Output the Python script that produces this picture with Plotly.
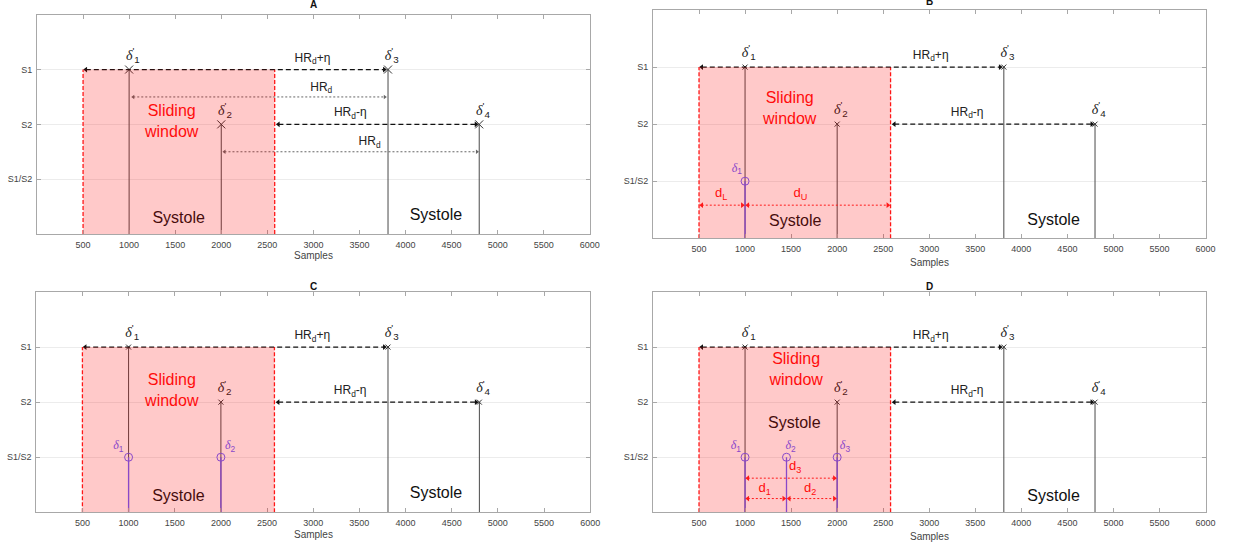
import plotly.graph_objects as go

# ---------------- data ----------------
x_ticks = list(range(500, 6001, 500))
y_levels = [1, 2, 3]
y_labels = ["S1/S2", "S2", "S1"]
panel_titles = ["A", "B", "C", "D"]

window_start = 500
window_end = 2580

peak_x = [1000, 2000, 3810, 4800]        # delta'_1 .. delta'_4
peak_level = [3, 2, 3, 2]
peak_names = ["1", "2", "3", "4"]

hr_plus_span = [530, 3770]               # HR_d + eta
hr_plus_level = 3
hr_minus_span = [2620, 4765]             # HR_d - eta
hr_minus_level = 2
hr_d_spans = [[1045, 3775], [2035, 4775]]  # panel A, HR_d
hr_d_levels = [2.5, 1.5]

det_b = [1000]
det_c = [1000, 2000]
det_d = [1000, 1450, 2000]
det_level = 1

dl_span = [530, 970]       # panel B
du_span = [1030, 2550]
dist_b_level = 0.58
d3_span = [1030, 1970]     # panel D
d1_span = [1030, 1420]
d2_span = [1480, 1970]
d3_level = 0.62
d12_level = 0.25

# ---------------- style ----------------
SANS = "Liberation Sans"
SERIF = "Liberation Serif"
BLUE = "#6a5cff"
STEM = "#4a4a4a"
AXC = "#a8a8a8"
TXT = "#444444"
BLACK_DASH = "5px,3px"
RED_DASH = "4px,2px"
DOT = "2px,2px"

domains = {
    1: ([0.0301, 0.4799], [0.5722, 0.9731]),
    2: ([0.5313, 0.9809], [0.5644, 0.9817]),
    3: ([0.0295, 0.4802], [0.0634, 0.4662]),
    4: ([0.5313, 0.9809], [0.0634, 0.4662]),
}

fig = go.Figure()


def refs(i):
    return ("x" if i == 1 else f"x{i}"), ("y" if i == 1 else f"y{i}")


def line(i, xs, ys, color, width=1, dash="solid", mode="lines", marker=None):
    xr, yr = refs(i)
    fig.add_trace(go.Scatter(x=xs, y=ys, mode=mode, xaxis=xr, yaxis=yr,
                             line=dict(color=color, width=width, dash=dash),
                             marker=marker or {}, hoverinfo="skip", showlegend=False))


def arrow(i, span, y, color, width=1.3, dash=BLACK_DASH, size=5):
    line(i, span, [y, y], color, width, dash, mode="lines+markers",
         marker=dict(symbol=["triangle-left", "triangle-right"], size=size, color=color,
                     line=dict(width=0)))


def text(i, x, y, s, size, color, family=SANS):
    xr, yr = refs(i)
    fig.add_trace(go.Scatter(x=[x], y=[y], mode="text", text=[s], xaxis=xr, yaxis=yr,
                             textposition="middle center",
                             textfont=dict(size=size, color=color, family=family),
                             hoverinfo="skip", showlegend=False))


def dlabel(n, prime=True):
    d = f'<span style="font-family:{SERIF}"><i>δ</i></span>'
    if prime:
        return d + "<sup>'</sup><sub>" + n + "</sub>"
    return d + "<sub>" + n + "</sub>"


def base_panel(i, msize, plus_lab, minus_lab, sw_pos, dprime_dx):
    # window edges
    for xw in (window_start, window_end):
        line(i, [xw, xw], [0, 3], "#ff1a1a", 1.3, RED_DASH)
    # stems of delta'
    for xp, lv, nm in zip(peak_x, peak_level, peak_names):
        line(i, [xp, xp], [0, lv], STEM, 1)
        line(i, [xp], [lv], STEM, mode="markers",
             marker=dict(symbol="x-thin", size=msize, line=dict(width=1, color="#333333")))
        text(i, xp + dprime_dx, lv + 0.24, dlabel(nm), 14, "#222222")
    arrow(i, hr_plus_span, hr_plus_level, "#111111")
    arrow(i, hr_minus_span, hr_minus_level, "#111111")
    text(i, plus_lab[0], plus_lab[1], "HR<sub>d</sub>+η", 12, "#222222")
    text(i, minus_lab[0], minus_lab[1], "HR<sub>d</sub>-η", 12, "#222222")
    text(i, sw_pos[0], sw_pos[1], "Sliding<br>window", 16, "#ff1010")


def detections(i, xs):
    for xd in xs:
        line(i, [xd, xd], [0, det_level], BLUE, 1.3)
        line(i, [xd], [det_level], BLUE, mode="markers",
             marker=dict(symbol="circle-open", size=8, line=dict(width=1, color=BLUE)))


# ---- Panel A ----
base_panel(1, 8, (2990, 3.2), (3400, 2.2), (1462, 2.04), 40)
for sp, lv in zip(hr_d_spans, hr_d_levels):
    arrow(1, sp, lv, "#666666", 1.0, DOT, 4)
text(1, 3085, 2.67, "HR<sub>d</sub>", 12, "#222222")
text(1, 3610, 1.67, "HR<sub>d</sub>", 12, "#222222")
text(1, 1538, 0.27, "Systole", 16, "#111111")
text(1, 4330, 0.32, "Systole", 16, "#111111")

# ---- Panel B ----
base_panel(2, 5, (3016, 3.2), (3412, 2.2), (1485, 2.25), 40)
detections(2, det_b)
text(2, 910, 1.22, dlabel("1", False), 12, BLUE)
arrow(2, dl_span, dist_b_level, "#ff2020", 1.0, DOT, 5)
arrow(2, du_span, dist_b_level, "#ff2020", 1.0, DOT, 5)
text(2, 740, 0.78, "d<sub>L</sub>", 13, "#ff1010")
text(2, 1600, 0.78, "d<sub>U</sub>", 13, "#ff1010")
text(2, 1545, 0.28, "Systole", 16, "#111111")
text(2, 4350, 0.3, "Systole", 16, "#111111")

# ---- Panel C ----
base_panel(3, 5, (2990, 3.2), (3400, 2.2), (1468, 2.19), 40)
detections(3, det_c)
text(3, 890, 1.2, dlabel("1", False), 12, BLUE)
text(3, 2100, 1.2, dlabel("2", False), 12, BLUE)
text(3, 1540, 0.28, "Systole", 16, "#111111")
text(3, 4330, 0.33, "Systole", 16, "#111111")

# ---- Panel D ----
base_panel(4, 5, (3016, 3.2), (3412, 2.2), (1555, 2.57), 40)
detections(4, det_d)
for xd, nm in zip(det_d, ["1", "2", "3"]):
    text(4, xd + (-100 if nm == "1" else 45 if nm == "2" else 85), 1.2, dlabel(nm, False), 12, BLUE)
arrow(4, d3_span, d3_level, "#ff2020", 1.0, DOT, 5)
arrow(4, d1_span, d12_level, "#ff2020", 1.0, DOT, 5)
arrow(4, d2_span, d12_level, "#ff2020", 1.0, DOT, 5)
text(4, 1545, 0.83, "d<sub>3</sub>", 13, "#ff1010")
text(4, 1214, 0.43, "d<sub>1</sub>", 13, "#ff1010")
text(4, 1706, 0.43, "d<sub>2</sub>", 13, "#ff1010")
text(4, 1535, 1.61, "Systole", 16, "#111111")
text(4, 4350, 0.28, "Systole", 16, "#111111")

# ---------------- layout ----------------
layout = dict(width=1239, height=547, margin=dict(l=0, r=0, t=0, b=0),
              paper_bgcolor="white", plot_bgcolor="white",
              font=dict(family=SANS, size=9, color=TXT), showlegend=False)
shapes, annotations = [], []
title_y = {1: 0.991, 2: 0.997, 3: 0.476, 4: 0.476}
samples_y = {1: 0.532, 2: 0.521, 3: 0.022, 4: 0.020}
for i in range(1, 5):
    xd, yd = domains[i]
    xr, yr = refs(i)
    xk = "xaxis" if i == 1 else f"xaxis{i}"
    yk = "yaxis" if i == 1 else f"yaxis{i}"
    layout[xk] = dict(domain=xd, anchor=yr, range=[0, 6000], tickvals=x_ticks,
                      ticks="inside", ticklen=4, tickcolor=AXC, showline=True, linecolor=AXC,
                      linewidth=1, mirror="ticks", showgrid=False, zeroline=False,
                      tickfont=dict(size=9, color=TXT), ticklabelstandoff=2)
    layout[yk] = dict(domain=yd, anchor=xr, range=[0, 4], tickvals=y_levels, ticktext=y_labels,
                      ticks="inside", ticklen=4, tickcolor=AXC, showline=True, linecolor=AXC,
                      linewidth=1, mirror="ticks", showgrid=True, gridcolor="#ececec",
                      zeroline=False, tickfont=dict(size=9, color=TXT), ticklabelstandoff=2)
    shapes.append(dict(type="rect", xref=xr, yref=yr, x0=window_start, x1=window_end,
                       y0=0, y1=3, fillcolor="rgba(255,0,0,0.21)", line=dict(width=0),
                       layer="above"))
    cx = (xd[0] + xd[1]) / 2
    annotations.append(dict(xref="paper", yref="paper", x=cx, y=title_y[i], text=f"<b>{panel_titles[i-1]}</b>",
                            showarrow=False, font=dict(size=10, color="#111111"),
                            xanchor="center", yanchor="middle"))
    annotations.append(dict(xref="paper", yref="paper", x=cx, y=samples_y[i], text="Samples",
                            showarrow=False, font=dict(size=10, color=TXT),
                            xanchor="center", yanchor="middle"))
layout["shapes"] = shapes
layout["annotations"] = annotations
fig.update_layout(**layout)
fig.write_html("out.html")
